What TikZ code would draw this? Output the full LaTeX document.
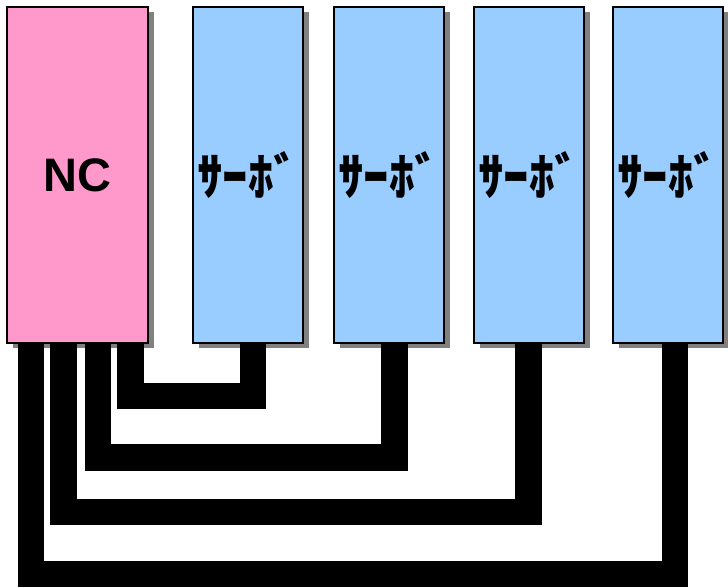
\documentclass[tikz,border=0pt]{standalone}
\usepackage{fontspec}
\setmainfont{Liberation Sans}
\newfontfamily\jpfont{Noto Sans CJK JP}[BoldFont={Noto Sans CJK JP Black}]
\usepackage{tikz}
\usetikzlibrary{shadows}
\definecolor{ncpink}{HTML}{FF99CC}
\definecolor{servoblue}{HTML}{99CCFF}

\begin{document}
\begin{tikzpicture}[x=1pt,y=-1pt,
    unit/.style={draw=black,line width=1.5pt,outer sep=0pt,anchor=north west,
      minimum height=336pt,
      drop shadow={shadow xshift=6pt,shadow yshift=-5pt,fill=black!50,opacity=1}},
    ncbox/.style={unit,fill=ncpink,minimum width=141pt,
      font=\fontsize{47}{48}\selectfont\bfseries},
    servobox/.style={unit,fill=servoblue,minimum width=110pt,
      font=\fontsize{51}{52}\selectfont\jpfont\bfseries},
    cable/.style={line width=26.5pt,line join=miter,line cap=butt}]
    \useasboundingbox (0,0) rectangle (728,587);
    \node[ncbox] (nc) at (7,7) {NC};
    \node[servobox] (sv1) at (193,7) {\raisebox{-3pt}{ｻｰﾎﾞ}};
    \node[servobox] (sv2) at (334,7) {\raisebox{-3pt}{ｻｰﾎﾞ}};
    \node[servobox] (sv3) at (474,7) {\raisebox{-3pt}{ｻｰﾎﾞ}};
    \node[servobox] (sv4) at (613,7) {\raisebox{-3pt}{ｻｰﾎﾞ}};
    % cable bends
    \coordinate (k1) at (253,396) ;
    \coordinate (k2) at (394.5,457.5) ;
    \coordinate (k3) at (528.5,512) ;
    \coordinate (k4) at (675,574) ;
    \draw[cable] ([xshift=123.5pt]nc.south west) |- (k1) -- (k1 |- sv1.south);
    \draw[cable] ([xshift=91pt]nc.south west) |- (k2) -- (k2 |- sv2.south);
    \draw[cable] ([xshift=56.5pt]nc.south west) |- (k3) -- (k3 |- sv3.south);
    \draw[cable] ([xshift=24pt]nc.south west) |- (k4) -- (k4 |- sv4.south);
\end{tikzpicture}
\end{document}
